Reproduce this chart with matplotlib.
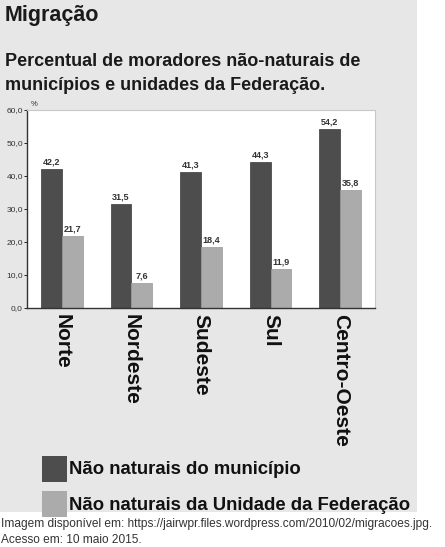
import numpy as np
import matplotlib
matplotlib.use("Agg")
import matplotlib.pyplot as plt
from matplotlib.patches import Rectangle

plt.rcParams['font.family'] = ['Liberation Sans', 'DejaVu Sans']

regioes = ["Norte", "Nordeste", "Sudeste", "Sul", "Centro-Oeste"]
nao_naturais_municipio = [42.2, 31.5, 41.3, 44.3, 54.2]
nao_naturais_uf = [21.7, 7.6, 18.4, 11.9, 35.8]
y_ticks = [0, 10, 20, 30, 40, 50, 60]
legenda = ["Não naturais do município", "Não naturais da Unidade da Federação"]

W, H = 445, 547
dark = "#4d4d4d"
light = "#ababab"
bg = "#e7e7e7"


def px(x, y):
    # pixel coords (top-left origin) -> figure fraction
    return x / W, 1 - y / H


fig = plt.figure(figsize=(W / 100, H / 100), dpi=100)
fig.patch.set_facecolor("white")
fig.patches.append(Rectangle((0, 1 - 512 / H), 417 / W, 512 / H,
                             transform=fig.transFigure, facecolor=bg,
                             edgecolor="none", zorder=-10))

fig.text(*px(5, 16), "Migração", fontsize=15.5, fontweight="bold",
         color="#1a1a1a", va="center", ha="left")
fig.text(*px(5, 62), "Percentual de moradores não-naturais de",
         fontsize=13.0, fontweight="bold", color="#1a1a1a", va="center")
fig.text(*px(5, 86), "municípios e unidades da Federação.",
         fontsize=13.0, fontweight="bold", color="#1a1a1a", va="center")

l, b = px(27, 308)
ax = fig.add_axes([l, b, 348 / W, 198 / H])
ax.set_facecolor("white")

x = np.arange(len(regioes))
w = 0.3
ax.bar(x - w / 2, nao_naturais_municipio, w, color=dark, edgecolor="#3a3a3a", linewidth=0.5)
ax.bar(x + w / 2, nao_naturais_uf, w, color=light, edgecolor="#999999", linewidth=0.5)

for xi, v in zip(x - w / 2, nao_naturais_municipio):
    ax.text(xi, v + 0.8, f"{v:.1f}".replace(".", ","), ha="center", va="bottom",
            fontsize=6.5, fontweight="bold", color="#333333")
for xi, v in zip(x + w / 2, nao_naturais_uf):
    ax.text(xi, v + 0.8, f"{v:.1f}".replace(".", ","), ha="center", va="bottom",
            fontsize=6.5, fontweight="bold", color="#333333")

ax.set_xlim(-0.5, 4.5)
ax.set_ylim(0, 60)
ax.set_yticks(y_ticks)
ax.set_yticklabels([f"{t:.1f}".replace(".", ",") for t in y_ticks],
                   fontsize=6, color="#333333")
ax.tick_params(axis="y", length=2, width=0.6, pad=1)
ax.tick_params(axis="x", length=0)
ax.set_xticks(x)
ax.set_xticklabels(regioes, rotation=-90, fontsize=15, fontweight="bold",
                   color="#111111", va="top", ha="center")
ax.tick_params(axis="x", pad=4)
for s in ["top", "right"]:
    ax.spines[s].set_color("#c8c8c8")
for s in ["left", "bottom"]:
    ax.spines[s].set_color("#333333")
    ax.spines[s].set_linewidth(1.0)
ax.text(0.01, 1.01, "%", transform=ax.transAxes, fontsize=5.5,
        color="#333333", ha="left", va="bottom")

# legend
for i, (lbl, c) in enumerate(zip(legenda, [dark, light])):
    top = 456 + i * 35
    fig.patches.append(Rectangle(px(42, top + 26), 25 / W, 26 / H,
                                 transform=fig.transFigure, facecolor=c,
                                 edgecolor="none"))
    fig.text(*px(69, top + 14), lbl, fontsize=13.3, fontweight="bold",
             color="#111111", va="center", ha="left")

fig.text(*px(1, 524), "Imagem disponível em: https://jairwpr.files.wordpress.com/2010/02/migracoes.jpg.",
         fontsize=8.6, color="#333333", va="center")
fig.text(*px(1, 540), "Acesso em: 10 maio 2015.", fontsize=8.6,
         color="#333333", va="center")

fig.savefig("out.png", dpi=100)
